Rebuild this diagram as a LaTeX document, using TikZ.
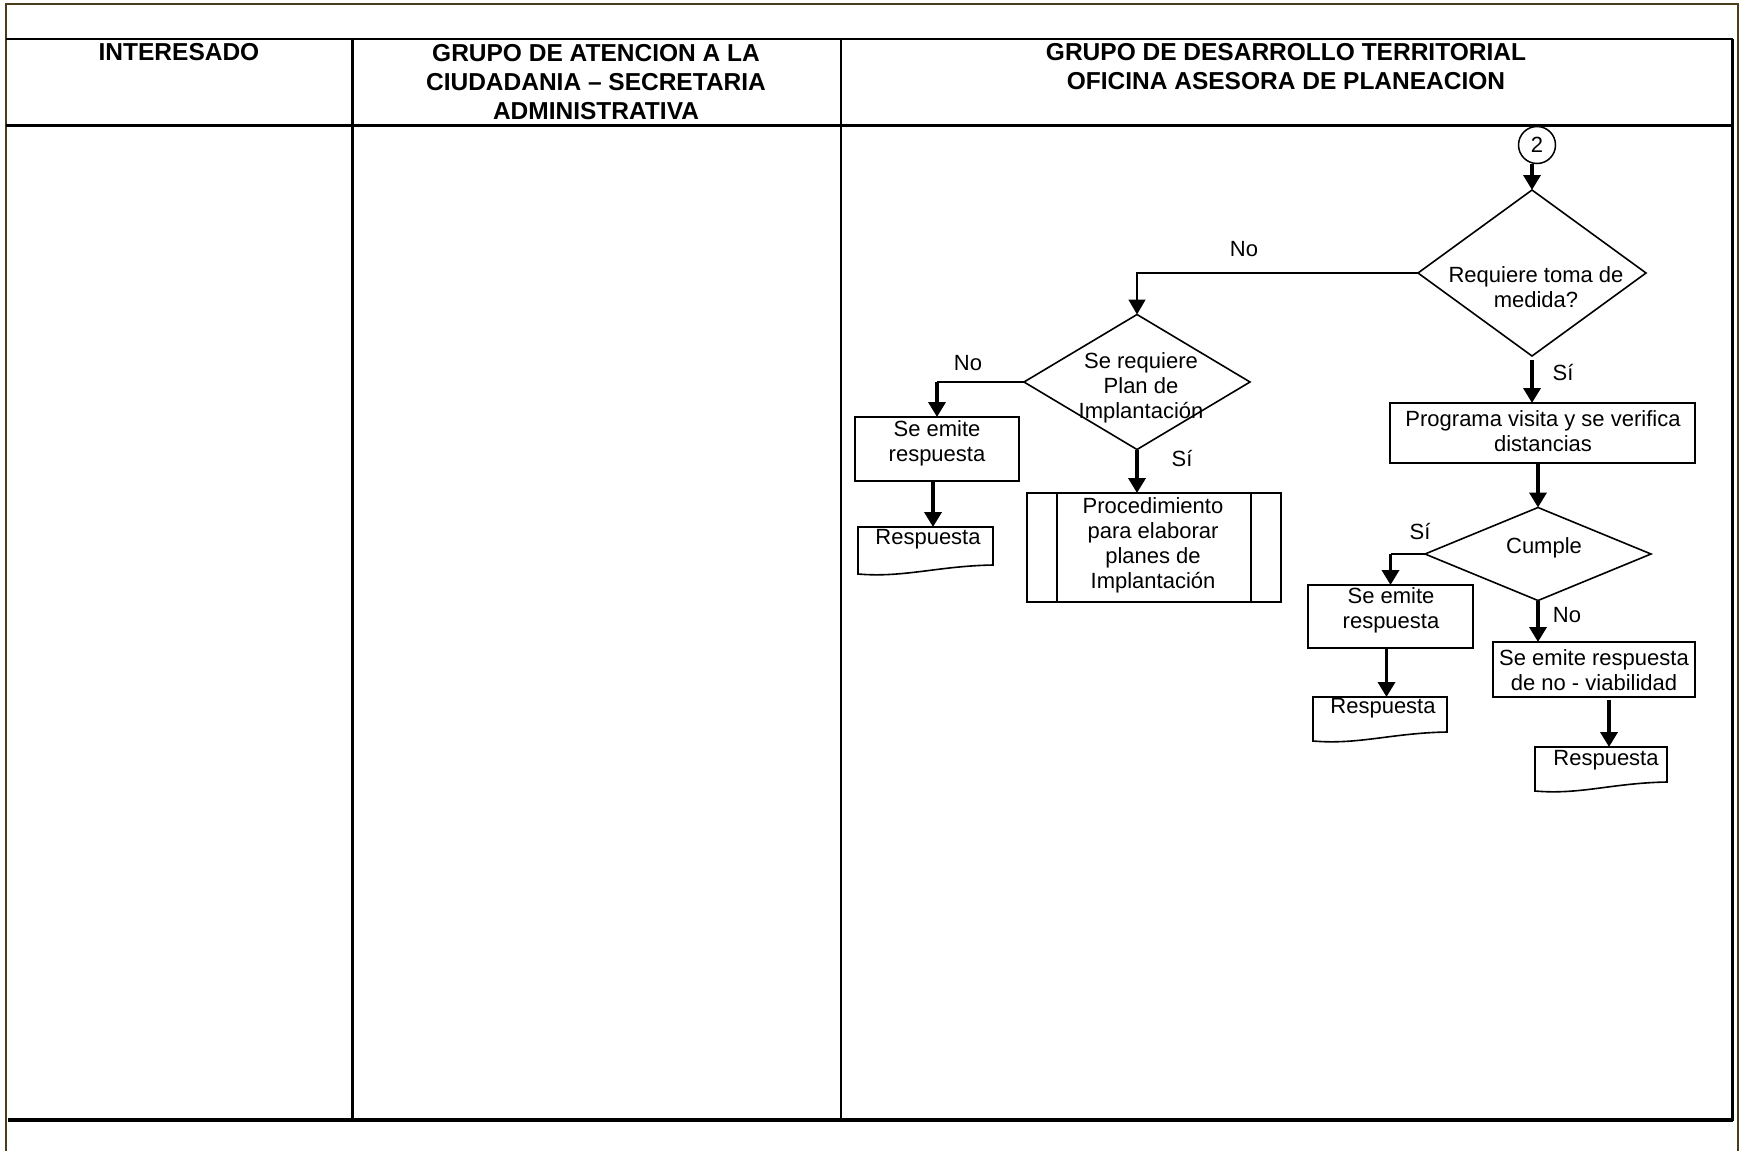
\documentclass[tikz,border=0pt]{standalone}
\usepackage{fontspec}
\setmainfont{Liberation Sans}
\usetikzlibrary{shapes.geometric,arrows.meta,calc}
\definecolor{framebrown}{HTML}{4B3C1E}
\newcommand\hdrfont{\fontsize{24.5}{29}\selectfont\bfseries}
\newcommand\flowfont{\fontsize{22}{25}\selectfont}
% document symbol: flat top, wavy bottom edge
\newcommand\docoutline[1]{%
  \draw[flow] (#1.north west) -- (#1.north east) -- (#1.south east)
    .. controls ($(#1.south east)+(-55,1)$) and ($(#1.south west)+(45,13)$) .. ($(#1.south west)+(0,9)$) -- cycle;}

\begin{document}
\begin{tikzpicture}[x=1pt,y=-1pt,
  lane/.style={line width=#1},
  box/.style={draw, rectangle, line width=1.6pt, inner sep=0pt, outer sep=0pt},
  dia/.style={draw, diamond, line width=1.6pt, inner sep=0pt, outer sep=0pt},
  txt/.style={font=\flowfont, align=center, inner sep=0pt},
  hdr/.style={font=\hdrfont, align=center, inner sep=0pt},
  docbox/.style={rectangle, inner sep=0pt, outer sep=0pt},
  flow/.style={line width=1.6pt},
  flowarrow/.style={line width=1.6pt, -{Triangle[width=17pt,length=15pt]}},
  thickarrow/.style={line width=3.6pt, -{Triangle[width=17pt,length=15pt]}},
]
\useasboundingbox (0,0) rectangle (1745,1151);

% outer frame
\draw[framebrown, line width=2.2pt] (6,1151) -- (6,4) -- (1738,4) -- (1738,1151);

% swimlane table
\draw[lane=2pt] (6,39) -- (1733,39);
\draw[lane=3pt] (6,125) -- (1733,125);
\draw[lane=3.5pt] (8,1120) -- (1733,1120);
\draw[lane=3pt] (352,39) -- (352,1121);
\draw[lane=2pt] (841,39) -- (841,1121);
\draw[lane=3pt] (1732,39) -- (1732,1121);

% lane headers
\node[hdr] (h1) at (179,52) {INTERESADO};
\node[hdr] (h2) at (596,82) {GRUPO DE ATENCION A LA\\CIUDADANIA – SECRETARIA\\ADMINISTRATIVA};
\node[hdr] (h3) at (1286,67) {GRUPO DE DESARROLLO TERRITORIAL\\OFICINA ASESORA DE PLANEACION};

% connector and first decision
\node[draw, circle, line width=1.5pt, minimum size=37pt, inner sep=0pt, outer sep=0pt, font=\flowfont] (c2) at (1537,145) {2};
\node[dia, minimum width=228pt, minimum height=166pt] (d1) at (1532,273) {};
\node[txt] (d1t) at (1536,287) {Requiere toma de\\medida?};

% left branch
\node[dia, minimum width=226pt, minimum height=135pt] (d2) at (1137,382) {};
\node[txt] (d2t) at (1141,388) {Se requiere\\Plan de\\Implantación};
\node[box, minimum width=164pt, minimum height=64pt] (b1) at (937,449) {};
\node[txt] (b1t) at (937,443) {Se emite\\respuesta};
\node[docbox, minimum width=135pt, minimum height=38pt] (rA) at (925.5,546) {};
\docoutline{rA}
\node[txt] (rAt) at (928,539) {Respuesta};
\node[box, minimum width=254pt, minimum height=109pt] (pp) at (1154,547.5) {};
\draw[flow] ([xshift=30pt]pp.north west) -- ([xshift=30pt]pp.south west);
\draw[flow] ([xshift=-30pt]pp.north east) -- ([xshift=-30pt]pp.south east);
\node[txt] (ppt) at (1153,545) {Procedimiento\\para elaborar\\planes de\\Implantación};

% right branch
\node[box, minimum width=305pt, minimum height=60pt] (pv) at (1542.5,433) {};
\node[txt] (pvt) at (1543,431.5) {Programa visita y se verifica\\distancias};
\node[dia, minimum width=226pt, minimum height=93pt] (d3) at (1538,554) {};
\node[txt] (d3t) at (1544,548) {Cumple};
\node[box, minimum width=165pt, minimum height=63pt] (b2) at (1390.5,616.5) {};
\node[txt] (b2t) at (1391,610) {Se emite\\respuesta};
\node[docbox, minimum width=134pt, minimum height=35pt] (rB) at (1380,714.5) {};
\docoutline{rB}
\node[txt] (rBt) at (1383,708) {Respuesta};
\node[box, minimum width=202pt, minimum height=55pt] (b3) at (1594,669.5) {};
\node[txt] (b3t) at (1594,670) {Se emite respuesta\\de no - viabilidad};
\node[docbox, minimum width=132pt, minimum height=35pt] (rC) at (1601,764.5) {};
\docoutline{rC}
\node[txt] (rCt) at (1606,760) {Respuesta};

% branch labels
\node[txt] (l1) at (1244,249) {No};
\node[txt] (l2) at (968,363) {No};
\node[txt] (l3) at (1182,459) {Sí};
\node[txt] (l4) at (1563,373) {Sí};
\node[txt] (l5) at (1420,532) {Sí};
\node[txt] (l6) at (1567,615) {No};

% connectors
\draw[thickarrow] (c2.south -| d1.north) -- (d1.north);
\draw[flowarrow] (d1.west) -| (d2.north);
\draw[flow] (d2.west) -- (d2.west -| b1.north);
\draw[thickarrow] (d2.west -| b1.north) -- (b1.north);
\coordinate (a1) at ([xshift=-4pt]b1.south);
\draw[thickarrow] (a1) -- (a1 |- rA.north);
\draw[thickarrow] (d2.south) -- (d2.south |- pp.north);
\coordinate (a2) at ([yshift=-4pt]d1.south);
\draw[thickarrow] (a2) -- (a2 |- pv.north);
\draw[thickarrow] (pv.south -| d3.north) -- (d3.north);
\draw[flow] (d3.west) -- (d3.west -| b2.north);
\draw[thickarrow] (d3.west -| b2.north) -- (b2.north);
\coordinate (a3) at ([xshift=-4pt]b2.south);
\draw[thickarrow] (a3) -- (a3 |- rB.north);
\draw[thickarrow] (d3.south) -- (d3.south |- b3.north);
\coordinate (a4) at ([xshift=15pt,yshift=-3pt]b3.south);
\draw[thickarrow] (a4) -- (a4 |- rC.north);
\end{tikzpicture}
\end{document}
